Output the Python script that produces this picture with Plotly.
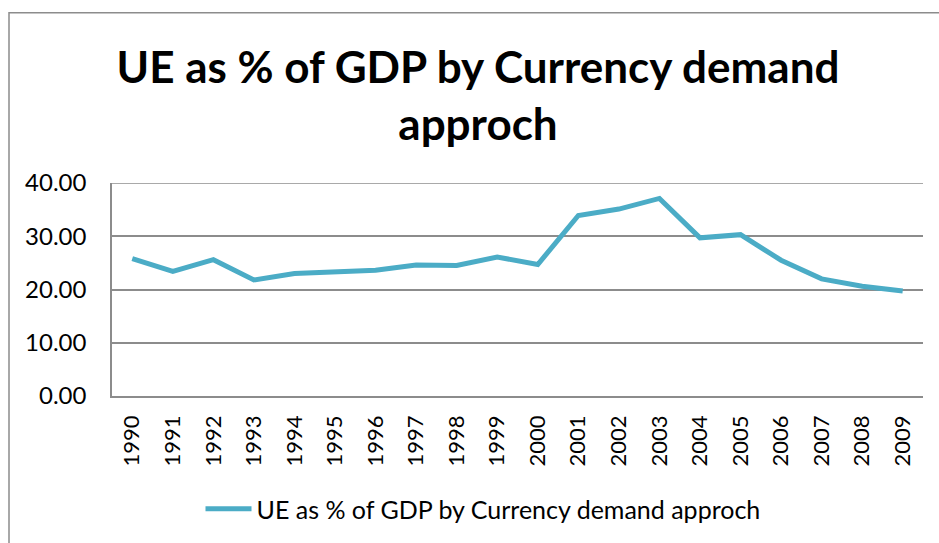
import plotly.graph_objects as go

# Underground economy as a share of GDP, currency demand approach
years = [str(y) for y in range(1990, 2010)]
ue_share = [25.8, 23.4, 25.6, 21.8, 23.0, 23.4, 23.6, 24.6, 24.5, 26.1,
            24.7, 33.9, 35.1, 37.1, 29.7, 30.3, 25.5, 22.0, 20.6, 19.7]
y_ticks = [0, 10, 20, 30, 40]
y_tick_labels = ["0.00", "10.00", "20.00", "30.00", "40.00"]

series_name = "UE as % of GDP by Currency demand approch"
title_text = "UE as % of GDP by Currency demand<br>approch"

W, H = 939, 543
ml, mr, mt, mb = 112, 16, 183, 146
pw, ph = W - ml - mr, H - mt - mb

fig = go.Figure()
fig.add_trace(go.Scatter(
    x=years, y=ue_share, mode="lines", name=series_name,
    line=dict(color="#4BACC6", width=5),
))

grid = "#8c8c8c"
fig.update_layout(
    width=W, height=H,
    margin=dict(l=ml, r=mr, t=mt, b=mb),
    paper_bgcolor="white", plot_bgcolor="white",
    font=dict(family="Lato, sans-serif", color="black"),
    title=dict(text=title_text, x=478 / W, xref="container", xanchor="center",
               y=1 - 83 / H, yref="container", yanchor="top",
               font=dict(size=44, family="Lato", weight="bold")),
    xaxis=dict(type="category", tickangle=-90, showgrid=False,
               range=[-0.5, len(years) - 0.5],
               showline=True, linecolor=grid, linewidth=1.5,
               tickfont=dict(size=22), ticks="", ticklabelstandoff=9),
    yaxis=dict(range=[0, 40], tickvals=y_ticks, ticktext=y_tick_labels,
               showgrid=True, gridcolor=grid, gridwidth=1.5,
               showline=True, linecolor=grid, linewidth=1.5,
               zeroline=False, tickfont=dict(size=24), ticks="",
               ticklabelstandoff=19),
    showlegend=True,
    legend=dict(orientation="h", x=(483 - ml) / pw, xanchor="center",
                y=(H - mb - 509) / ph, yanchor="middle",
                font=dict(size=25), itemwidth=46),
    shapes=[dict(type="rect", xref="paper", yref="paper",
                 x0=(9 - ml) / pw, x1=(W + 5 - ml) / pw,
                 y0=(H - mb - (H + 5)) / ph, y1=(H - mb - 12) / ph,
                 line=dict(color="#8c8c8c", width=1.5), layer="below")],
)
fig.add_hline(y=40, line=dict(color=grid, width=1.5))

fig.write_html("out.html")
